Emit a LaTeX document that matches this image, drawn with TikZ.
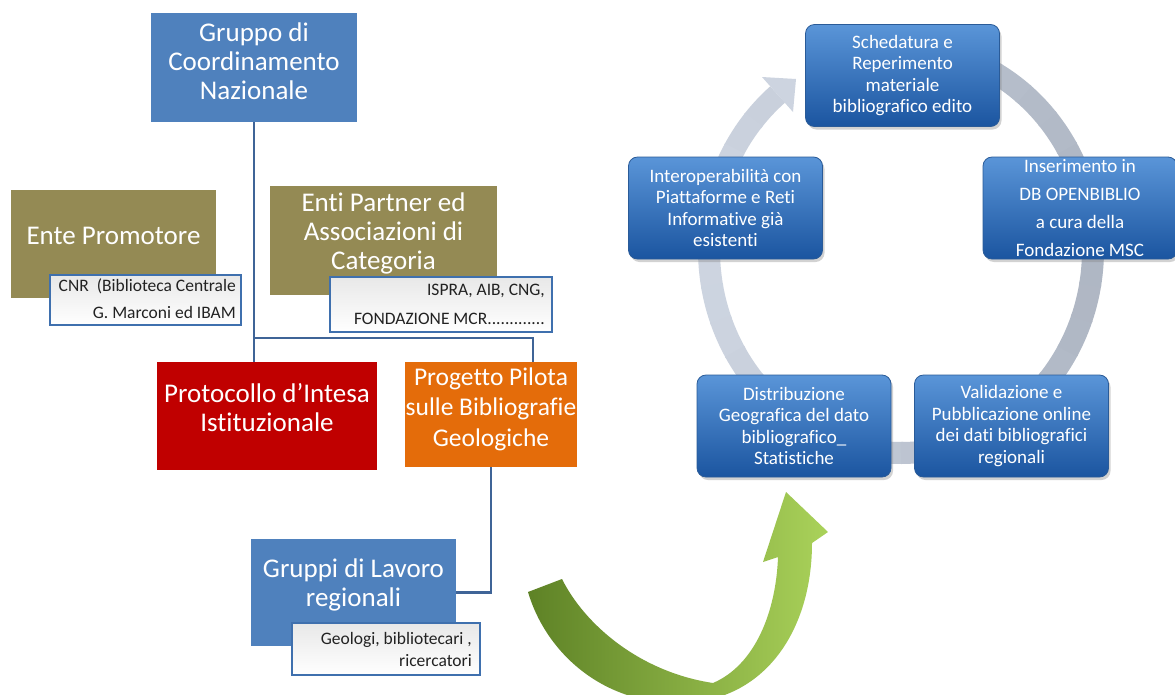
\documentclass[tikz,border=0pt]{standalone}
\usepackage{fontspec}
\setmainfont{Carlito}[Ligatures=NoCommon]
\usetikzlibrary{shadows}
\definecolor{orgblue}{HTML}{4F81BD}
\definecolor{oliveb}{HTML}{948A54}
\definecolor{darkredb}{HTML}{C00000}
\definecolor{orangeb}{HTML}{E46C0A}
\definecolor{linec}{HTML}{3F6497}
\definecolor{subborder}{HTML}{3F70AE}
\definecolor{cyctop}{HTML}{5A95D8}
\definecolor{cycbot}{HTML}{1B55A0}
\definecolor{cycdraw}{HTML}{2A5B98}
\definecolor{ringA}{HTML}{CDD4E0}
\definecolor{ringB}{HTML}{AFB7C4}
\definecolor{glight}{HTML}{AAD25A}
\definecolor{gdark}{HTML}{5E8226}
\definecolor{subtxt}{HTML}{222222}
\begin{document}
\begin{tikzpicture}[x=1pt,y=-1pt,
  orgbox/.style={rectangle, inner sep=0pt, draw=none},
  orgtext/.style={text=white, font=\fontsize{27}{29}\selectfont, align=center, inner sep=0pt},
  subbox/.style={rectangle, inner sep=0pt, draw=subborder, line width=2.4pt, top color=black!9, bottom color=white},
  subtext/.style={text=subtxt, align=right, inner sep=0pt, anchor=east},
  orgline/.style={draw=linec, line width=2.6pt},
  cycbox/.style={rectangle, rounded corners=9pt, minimum width=194pt, minimum height=102pt,
    top color=cyctop, bottom color=cycbot, draw=cycdraw, line width=0.8pt,
    drop shadow={opacity=0.35, shadow xshift=2pt, shadow yshift=-3pt},
    text=white, align=center, inner sep=2pt, font=\fontsize{19}{21.5}\selectfont}
]
\useasboundingbox (0,0) rectangle (1175,694);
\clip (0,0) rectangle (1175,694);
\fill[white] (0,0) rectangle (1175,694);

% ---------------- left: organisation chart ----------------
\node[orgbox, fill=orgblue, minimum width=206pt, minimum height=109pt] (gruppo) at (254,67.5) {};
\node[orgtext] (gruppo-t) at (254,61) {Gruppo di\\Coordinamento\\Nazionale};

\node[orgbox, fill=oliveb, minimum width=205pt, minimum height=108pt] (ente) at (113.5,244) {};
\node[orgtext] (ente-t) at (113.5,236) {Ente Promotore};
\node[subbox, minimum width=191pt, minimum height=50pt] (cnr) at (145.5,300) {};
\node[subtext, font=\fontsize{17.5}{27}\selectfont] (cnr-t) at (236,299) {CNR\ \ (Biblioteca Centrale\\G. Marconi ed IBAM};

\node[orgbox, fill=oliveb, minimum width=227pt, minimum height=109pt] (enti) at (383.5,240.5) {};
\node[orgtext] (enti-t) at (383.5,233) {Enti Partner ed\\Associazioni di\\Categoria};
\node[subbox, minimum width=222pt, minimum height=55pt] (ispra) at (441,304.5) {};
\node[subtext, font=\fontsize{17.5}{29}\selectfont] (ispra-t) at (545,304) {ISPRA, AIB, CNG,\\FONDAZIONE MCR.............};

\node[orgbox, fill=darkredb, minimum width=220pt, minimum height=108pt] (proto) at (267,416) {};
\node[orgtext] (proto-t) at (267,408) {Protocollo d’Intesa\\Istituzionale};

\node[orgbox, fill=orangeb, minimum width=172pt, minimum height=105pt] (progetto) at (491,414.5) {};
\node[orgtext, font=\fontsize{25.5}{30.5}\selectfont] (progetto-t) at (491,409) {Progetto Pilota\\sulle Bibliografie\\Geologiche};

\node[orgbox, fill=orgblue, minimum width=205pt, minimum height=107pt] (gruppi) at (353.5,592.5) {};
\node[orgtext] (gruppi-t) at (353.5,585) {Gruppi di Lavoro\\regionali};
\node[subbox, minimum width=188pt, minimum height=52pt] (geologi) at (386,649) {};
\node[subtext, font=\fontsize{17.5}{22}\selectfont] (geologi-t) at (472,649) {Geologi, bibliotecari ,\\ricercatori};

% connectors
\coordinate (j1) at (253,338);
\coordinate (j2) at (533,338);
\draw[orgline] (gruppo.south) -- (gruppo.south |- proto.north);
\draw[orgline] (j1) -- (j2) -- (j2 |- progetto.north);
\draw[orgline] (progetto.south) |- (gruppi.east);

% ---------------- right: cycle ----------------
\foreach \a in {130,140,...,430}{
  \pgfmathsetmacro\m{50-50*cos(\a+5)}
  \draw[color=ringA!\m!ringB, line width=22pt]
    plot[domain=\a:\a+10.6, samples=8] ({901+192*cos(\x)}, {250-203*sin(\x)});
}
\fill[ringA] (762,77) -- (796,79) -- (793,112) -- cycle;

\node[cycbox] (sched) at (902.5,75.5) {Schedatura e\\Reperimento\\materiale\\bibliografico edito};
\node[cycbox, font=\fontsize{19}{27.7}\selectfont] (ins) at (1080,208) {Inserimento in\\DB OPENBIBLIO\\a cura della\\Fondazione MSC};
\node[cycbox] (valid) at (1011.5,426) {Validazione e\\Pubblicazione online\\dei dati bibliografici\\regionali};
\node[cycbox] (distr) at (794,426) {Distribuzione\\Geografica del dato\\bibliografico\_\\Statistiche};
\node[cycbox] (inter) at (725.5,208) {Interoperabilità con\\Piattaforme e Reti\\Informative già\\esistenti};

% ---------------- green curved arrow ----------------
\shade[left color=gdark, right color=glight]
  (528,592) -- (562,579)
  .. controls (585,625) and (640,672) .. (713,683)
  .. controls (755,665) and (776,612) .. (778,557)
  -- (763,562) -- (786,492) -- (828,532) -- (812,543)
  .. controls (812,630) and (765,702) .. (680,703)
  .. controls (600,704) and (545,650) .. (528,592) -- cycle;
\end{tikzpicture}
\end{document}
